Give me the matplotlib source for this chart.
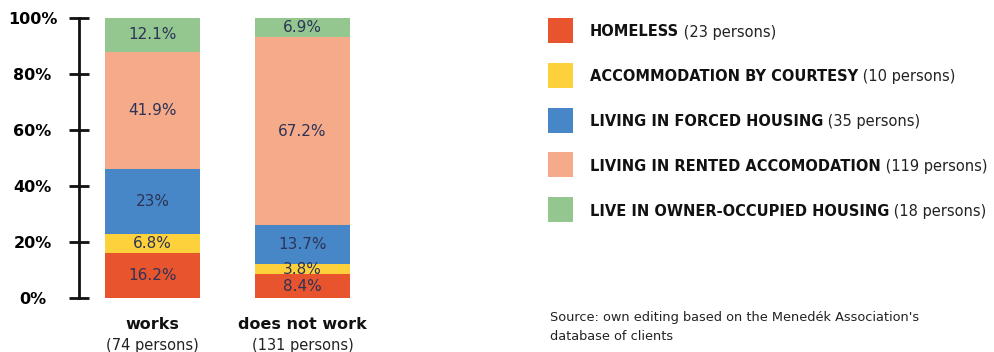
import matplotlib
matplotlib.use("Agg")
import matplotlib.pyplot as plt
from matplotlib.patches import Rectangle

# groups and their sizes
groups = ["works", "does not work"]
group_sizes = [74, 131]

# housing categories, bottom to top
categories = ["HOMELESS", "ACCOMMODATION BY COURTESY", "LIVING IN FORCED HOUSING",
              "LIVING IN RENTED ACCOMODATION", "LIVE IN OWNER-OCCUPIED HOUSING"]
category_counts = [23, 10, 35, 119, 18]
colors = ["#E8542D", "#FDD13B", "#4887C7", "#F5AA8A", "#94C78F"]

# share of each category within the group (%)
works = [16.2, 6.8, 23, 41.9, 12.1]
not_work = [8.4, 3.8, 13.7, 67.2, 6.9]
shares = [works, not_work]

source = "Source: own editing based on the Menedék Association's\ndatabase of clients"

plt.rcParams['font.family'] = ['DejaVu Sans']
label_col = "#2D3357"

W, H = 994, 352
fig = plt.figure(figsize=(W / 100, H / 100), dpi=100)
ax = fig.add_axes([79 / W, 54 / H, 301 / W, 280 / H])
ax.set_xlim(-0.49, 1.517)
ax.set_ylim(0, 100)

for i, vals in enumerate(shares):
    bottom = 0
    for v, c in zip(vals, colors):
        ax.bar(i, v, bottom=bottom, width=0.633, color=c, linewidth=0)
        ax.text(i, bottom + v / 2, f"{v:g}%", ha="center", va="center",
                fontsize=11, color=label_col)
        bottom += v

for s in ["top", "right", "bottom"]:
    ax.spines[s].set_visible(False)
ax.spines["left"].set_linewidth(2)
ax.spines["left"].set_color("#111111")
ax.set_yticks([0, 20, 40, 60, 80, 100])
ax.set_yticklabels([f"{t}%" for t in [0, 20, 40, 60, 80, 100]],
                   fontweight="bold", fontsize=11.5, ha="center")
ax.tick_params(axis="y", direction="inout", length=14, width=2, pad=26.5,
               color="#111111")
ax.set_xticks([])

for i, (g, n) in enumerate(zip(groups, group_sizes)):
    ax.text(i, -0.095, g, transform=ax.get_xaxis_transform(), ha="center",
            va="center", fontsize=11.5, fontweight="bold", color="#111111")
    ax.text(i, -0.17, f"({n} persons)", transform=ax.get_xaxis_transform(),
            ha="center", va="center", fontsize=10.5, color="#222222")

# legend drawn by hand: square, bold name, then count
for k, (name, cnt, c) in enumerate(zip(categories, category_counts, colors)):
    yc = 30.5 + k * 44.8
    fig.patches.append(Rectangle((548 / W, 1 - (yc + 12.5) / H), 25 / W, 25 / H,
                                 transform=fig.transFigure, color=c, linewidth=0))
    t = fig.text(590 / W, 1 - yc / H, name, fontsize=10.5, fontweight="bold",
                 va="center_baseline", color="#111111")
    ax.annotate(f" ({cnt} persons)", xy=(1, 0), xycoords=t, va="bottom",
                fontsize=10.5, color="#222222", annotation_clip=False)

fig.text(550 / W, 1 - 327 / H, source, fontsize=9.3, color="#222222",
         va="center", linespacing=1.62)

fig.savefig("out.png", dpi=100)
